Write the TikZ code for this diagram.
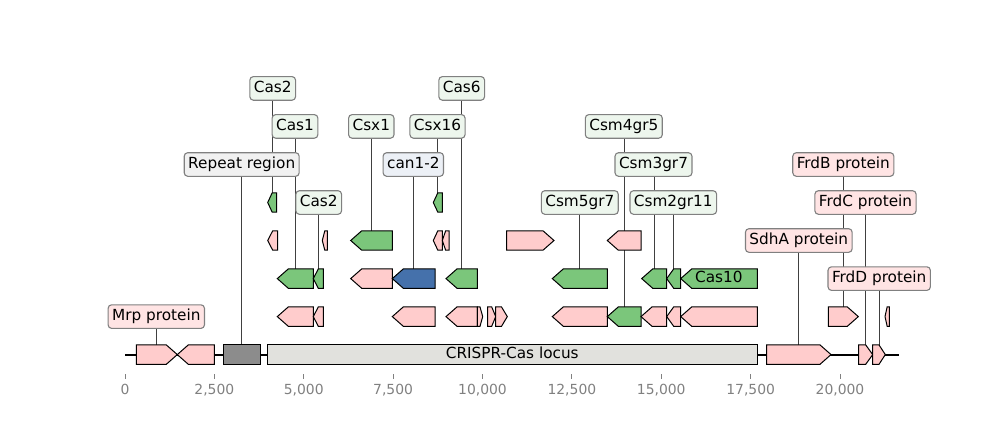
\documentclass[tikz,border=0pt]{standalone}
\usepackage{fontspec}
\setmainfont{DejaVu Sans}
\pgfdeclarelayer{bg}
\pgfdeclarelayer{fg}
\pgfsetlayers{bg,main,fg}
\definecolor{gr}{HTML}{7BC67B}
\definecolor{pk}{HTML}{FFCCCC}
\definecolor{bl}{HTML}{4571AB}
\definecolor{repgray}{HTML}{8C8C8C}
\definecolor{locusgray}{HTML}{E1E1DD}
\definecolor{lgr}{HTML}{EDF6ED}
\definecolor{lpk}{HTML}{FFE4E4}
\definecolor{lbl}{HTML}{ECF0F6}
\definecolor{lgy}{HTML}{F1F1F1}
\definecolor{tickgray}{HTML}{808080}
\definecolor{leadgray}{HTML}{404040}
\newcommand\fwdgene[5]{%
  \pgfmathsetmacro\hl{min(11,(#5-#4)/2)}%
  \pgfmathsetmacro\hb{#5-\hl}%
  \pgfmathsetmacro\yt{#3-9.7}\pgfmathsetmacro\yb{#3+9.7}%
  \pgfmathsetmacro\xc{(#4+#5)/2}%
  \draw[gene,fill=#2] (#4,\yt) -- (\hb,\yt) -- (#5,#3) -- (\hb,\yb) -- (#4,\yb) -- cycle;
  \coordinate (#1) at (\xc,\yt);}
\newcommand\revgene[5]{%
  \pgfmathsetmacro\hl{min(11,(#5-#4)/2)}%
  \pgfmathsetmacro\hb{#4+\hl}%
  \pgfmathsetmacro\yt{#3-9.7}\pgfmathsetmacro\yb{#3+9.7}%
  \pgfmathsetmacro\xc{(#4+#5)/2}%
  \draw[gene,fill=#2] (#4,#3) -- (\hb,\yt) -- (#5,\yt) -- (#5,\yb) -- (\hb,\yb) -- cycle;
  \coordinate (#1) at (\xc,\yt);}
\newcommand\boxgene[5]{%
  \pgfmathsetmacro\yt{#3-9.7}\pgfmathsetmacro\yb{#3+9.7}%
  \pgfmathsetmacro\xc{(#4+#5)/2}%
  \draw[gene,fill=#2] (#4,\yt) rectangle (#5,\yb);
  \coordinate (#1) at (\xc,\yt);}
\begin{document}
\begin{tikzpicture}[x=1pt,y=-1pt,
  every node/.style={font=\fontsize{13.9}{16}\selectfont},
  gene/.style={draw=black,line width=1pt,line join=miter},
  bigtext/.style={text height=11.6pt,text depth=3.7pt,font=\fontsize{15.28}{18}\selectfont},
  lab/.style={bigtext,draw=tickgray,line width=1.1pt,rounded corners=3.5pt,inner xsep=4pt,inner ysep=4.15pt},
  glab/.style={lab,fill=lgr},
  plab/.style={lab,fill=lpk},
  leader/.style={draw=leadgray,line width=0.8pt},
  tick/.style={draw=tickgray,line width=0.8pt},
  ticklab/.style={text=tickgray,anchor=base}]
\useasboundingbox (0,0) rectangle (1000,420);
% main line
\coordinate (lineL) at (125,354.6);
\coordinate (lineR) at (899,354.6);
\draw[line width=2pt] (lineL) -- (lineR);
% base row
\fwdgene{mrpA}{pk}{354.6}{136.3}{177.3}
\revgene{mrpB}{pk}{354.6}{177.3}{214.3}
\boxgene{rep}{repgray}{354.6}{223}{260.3}
\boxgene{locus}{locusgray}{354.6}{267.3}{757.3}
\node[bigtext] (locustext) at (512.3,354.6) {CRISPR-Cas locus};
\fwdgene{sdhA}{pk}{354.6}{766.7}{831}
\fwdgene{frdC}{pk}{354.6}{858.7}{872.7}
\fwdgene{frdD}{pk}{354.6}{872.7}{885.3}
% row 1
\revgene{r1a}{pk}{316.6}{277.3}{313.3}
\revgene{r1b}{pk}{316.6}{313.3}{323.3}
\revgene{r1c}{pk}{316.6}{392.3}{435}
\revgene{r1d}{pk}{316.6}{446}{477.3}
\fwdgene{r1e}{pk}{316.6}{477.3}{482.7}
\fwdgene{r1f}{pk}{316.6}{487.7}{495.7}
\fwdgene{r1g}{pk}{316.6}{495.7}{507.3}
\revgene{r1h}{pk}{316.6}{552.3}{607.3}
\revgene{csm4}{gr}{316.6}{607.3}{641}
\revgene{r1i}{pk}{316.6}{641}{666.7}
\revgene{r1j}{pk}{316.6}{666.7}{680.7}
\revgene{r1k}{pk}{316.6}{680.7}{757.3}
\fwdgene{frdB}{pk}{316.6}{828.3}{858.3}
\revgene{r1l}{pk}{316.6}{885}{889.3}
% row 2
\revgene{cas1}{gr}{278.6}{277.3}{313.3}
\revgene{cas2b}{gr}{278.6}{313.3}{323.3}
\revgene{r2a}{pk}{278.6}{350.7}{392.3}
\revgene{can}{bl}{278.6}{392.3}{435}
\revgene{cas6}{gr}{278.6}{446}{477.3}
\revgene{csm5}{gr}{278.6}{552.3}{607.3}
\revgene{csm3}{gr}{278.6}{641.7}{666.7}
\revgene{csm2}{gr}{278.6}{666.7}{680.7}
\revgene{cas10}{gr}{278.6}{680.7}{757.3}
\node[bigtext] (cas10text) at (718.8,278.6) {Cas10};
% row 3
\revgene{r3a}{pk}{240.5}{267.7}{277.7}
\revgene{r3b}{pk}{240.5}{322.3}{327.3}
\revgene{csx1}{gr}{240.5}{350.7}{392.3}
\revgene{r3c}{pk}{240.5}{433.3}{442.3}
\revgene{r3d}{pk}{240.5}{442.3}{449}
\fwdgene{r3e}{pk}{240.5}{506.7}{554}
\revgene{r3f}{pk}{240.5}{607.3}{641}
% row 4
\revgene{cas2a}{gr}{202.5}{267.7}{276.7}
\revgene{csx16}{gr}{202.5}{433.3}{442.3}
% labels
\begin{pgfonlayer}{fg}
\node[glab] (Lcas2a) at (272.7,88.4) {Cas2};
\node[glab] (Lcas6) at (461.7,88.4) {Cas6};
\node[glab] (Lcas1) at (295,126.4) {Cas1};
\node[glab] (Lcsx1) at (371.3,126.4) {Csx1};
\node[glab] (Lcsx16) at (437.5,126.4) {Csx16};
\node[glab] (Lcsm4) at (623.8,126.4) {Csm4gr5};
\node[lab,fill=lgy] (Lrep) at (241.7,164.5) {Repeat region};
\node[lab,fill=lbl] (Lcan) at (413.3,164.5) {can1-2};
\node[glab] (Lcsm3) at (653.5,164.5) {Csm3gr7};
\node[plab] (LfrdB) at (843.3,164.5) {FrdB protein};
\node[glab] (Lcas2b) at (318.7,202.5) {Cas2};
\node[glab] (Lcsm5) at (579.8,202.5) {Csm5gr7};
\node[glab] (Lcsm2) at (673.3,202.5) {Csm2gr11};
\node[plab] (LfrdC) at (865.5,202.5) {FrdC protein};
\node[plab] (LsdhA) at (798.8,240.5) {SdhA protein};
\node[plab] (LfrdD) at (879.2,278.6) {FrdD protein};
\node[plab] (Lmrp) at (156.3,316.6) {Mrp protein};
\end{pgfonlayer}
% leader lines
\begin{pgfonlayer}{bg}
\foreach \f/\l in {cas2a/Lcas2a,cas6/Lcas6,cas1/Lcas1,csx1/Lcsx1,csx16/Lcsx16,csm4/Lcsm4,rep/Lrep,can/Lcan,csm3/Lcsm3,frdB/LfrdB,cas2b/Lcas2b,csm5/Lcsm5,csm2/Lcsm2,frdC/LfrdC,sdhA/LsdhA,frdD/LfrdD,mrpA/Lmrp}
  \draw[leader] (\f) -- (\f |- \l.south);
\end{pgfonlayer}
% axis
\foreach \i/\t in {0/0,1/{2,500},2/{5,000},3/{7,500},4/{10,000},5/{12,500},6/{15,000},7/{17,500},8/{20,000}}{
  \pgfmathsetmacro\tx{125+89.375*\i}
  \coordinate (tt\i) at (\tx,374);
  \coordinate (tb\i) at (\tx,378.5);
  \draw[tick] (tt\i) -- (tb\i);
  \node[ticklab] (tl\i) at (\tx,394.7) {\t};
}
\end{tikzpicture}
\end{document}
